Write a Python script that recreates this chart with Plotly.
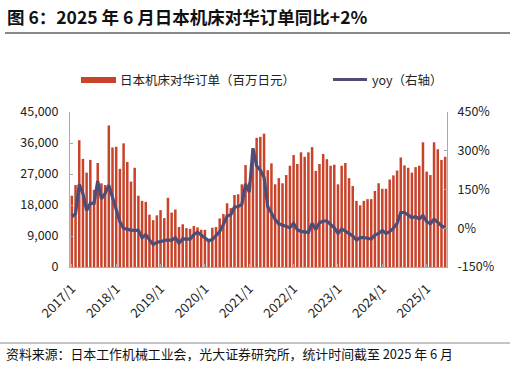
import plotly.graph_objects as go

months = [f"{y}/{m}" for y in range(2017, 2026) for m in range(1, 13)][:102]

orders = [20.7, 23.8, 36.8, 31.4, 27.4, 31.1, 22.4, 30.2, 24.3, 23.8, 41.1, 34.7,
          34.9, 28.5, 35.9, 30.5, 24.8, 28.8, 20.7, 19.2, 18.9, 15.2, 13.6, 15.0,
          16.5, 14.2, 20.1, 15.8, 16.7, 11.6, 12.4, 11.3, 11.1, 11.9, 11.5, 10.8,
          10.8, 7.6, 11.4, 11.6, 14.1, 15.4, 18.5, 17.1, 20.9, 21.1, 24.0, 29.6,
          24.5, 34.5, 37.5, 37.8, 38.7, 28.1, 30.1, 24.0, 25.8, 24.3, 26.7, 29.4,
          32.5, 29.9, 33.3, 32.0, 33.3, 34.8, 27.9, 29.9, 32.8, 31.3, 29.4, 29.7,
          24.0, 29.4, 30.2, 25.8, 23.5, 19.2, 17.9, 19.2, 19.7, 19.7, 22.1, 24.3,
          22.7, 22.7, 25.4, 26.6, 28.0, 31.8, 29.5, 28.8, 27.4, 29.0, 29.4, 36.2,
          27.7, 26.7, 36.2, 34.2, 31.1, 32.0]
orders = [v * 1000 for v in orders]

yoy = [45, 56, 170, 134, 69, 96, 96, 183, 114, 135, 167, 122,
       70, 25, 0, -4, -7, -8, -8, -37, -25, -45, -63, -55,
       -50, -48, -45, -47, -37, -58, -41, -42, -42, -25, -15, -26,
       -36, -48, -44, -28, -13, 15, 47, 52, 82, 84, 92, 172,
       140, 309, 242, 225, 197, 84, 60, 34, 17, 11, 6, 2,
       19, -6, -12, -15, -16, 19, -5, 21, 28, 28, 13, 2,
       -20, -3, -11, -20, -30, -45, -36, -36, -39, -42, -26, -20,
       -9, -20, -13, 0, 19, 61, 61, 49, 41, 45, 36, 49,
       26, 18, 35, 23, 10, 2]

left_ticks = [0, 9000, 18000, 27000, 36000, 45000]
right_ticks = [-150, 0, 150, 300, 450]
x_tick_labels = [f"{y}/1" for y in range(2017, 2026)]

BAR = "#C9432A"
LINE = "#4E4D78"
FONT = "Noto Sans CJK SC"

idx = list(range(len(months)))

fig = go.Figure()
fig.add_trace(go.Bar(x=idx, y=orders, marker=dict(color=BAR, line=dict(width=0)),
                     name="日本机床对华订单（百万日元）", showlegend=False))
fig.add_trace(go.Scatter(x=idx, y=yoy, mode="lines", yaxis="y2",
                         line=dict(color=LINE, width=3.2), name="yoy（右轴）",
                         showlegend=False))

fig.update_layout(
    width=516, height=365,
    margin=dict(l=70, r=69, t=112, b=98),
    paper_bgcolor="white", plot_bgcolor="white",
    bargap=0.32,
    font=dict(family=FONT, color="#222", size=12),
    xaxis=dict(range=[-0.5, len(months) - 0.5],
               tickmode="array", tickvals=[i for i in idx if months[i].endswith("/1")],
               ticktext=x_tick_labels, tickangle=-45,
               showline=True, linecolor="#AAAAAA", linewidth=1,
               ticks="inside", ticklen=3, tickcolor="#AAAAAA",
               showgrid=False, zeroline=False, ticklabelstandoff=8,
               tickfont=dict(family=FONT, size=13, color="#222")),
    yaxis=dict(range=[0, 45000], tickvals=left_ticks,
               ticktext=[f"{v:,}" for v in left_ticks],
               showline=True, linecolor="#AAAAAA", linewidth=1,
               ticks="inside", ticklen=3, tickcolor="#AAAAAA",
               showgrid=False, zeroline=False, ticklabelstandoff=8,
               tickfont=dict(family=FONT, size=12.5, color="#222")),
    yaxis2=dict(range=[-150, 450], tickvals=right_ticks,
                ticktext=[f"{v}%" for v in right_ticks],
                overlaying="y", side="right",
                showline=True, linecolor="#AAAAAA", linewidth=1,
                ticks="inside", ticklen=3, tickcolor="#AAAAAA",
                showgrid=False, zeroline=False, ticklabelstandoff=7,
                tickfont=dict(family=FONT, size=12.5, color="#222")),
)

shapes = [
    dict(type="line", xref="paper", yref="paper", x0=-65/377, x1=(510 - 70) / 377,
         y0=1 + (112 - 33) / 155, y1=1 + (112 - 33) / 155,
         line=dict(color="#111", width=1)),
    dict(type="line", xref="paper", yref="paper", x0=-70/377, x1=(510 - 70) / 377,
         y0=-(343 - 267) / 155, y1=-(343 - 267) / 155,
         line=dict(color="#888", width=1)),
    # legend swatches
    dict(type="rect", xref="paper", yref="paper", x0=(81 - 70) / 377, x1=(116 - 70) / 377,
         y0=1 + (112 - 83) / 155, y1=1 + (112 - 77) / 155,
         fillcolor=BAR, line=dict(width=0)),
    dict(type="line", xref="paper", yref="paper", x0=(333 - 70) / 377, x1=(367 - 70) / 377,
         y0=1 + (112 - 79.5) / 155, y1=1 + (112 - 79.5) / 155,
         line=dict(color=LINE, width=3)),
]

annotations = [
    dict(text="<b>图 6：2025 年 6 月日本机床对华订单同比+2%</b>", xref="paper", yref="paper",
         x=(5 - 70) / 377, y=1 + (112 - 16) / 155, xanchor="left", yanchor="middle",
         showarrow=False, font=dict(family=FONT, size=17.5, color="#111")),
    dict(text="日本机床对华订单（百万日元）", xref="paper", yref="paper",
         x=(118 - 70) / 377, y=1 + (112 - 80) / 155, xanchor="left", yanchor="middle",
         showarrow=False, font=dict(family=FONT, size=12.5, color="#222")),
    dict(text="yoy（右轴）", xref="paper", yref="paper",
         x=(370 - 70) / 377, y=1 + (112 - 80) / 155, xanchor="left", yanchor="middle",
         showarrow=False, font=dict(family=FONT, size=12.5, color="#222")),
    dict(text="资料来源：日本工作机械工业会，光大证券研究所，统计时间截至 2025 年 6 月",
         xref="paper", yref="paper",
         x=(4 - 70) / 377, y=-(353 - 267) / 155, xanchor="left", yanchor="middle",
         showarrow=False, font=dict(family=FONT, size=12.9, color="#111")),
]

fig.update_layout(shapes=shapes, annotations=annotations)
fig.write_html("out.html", config={"displayModeBar": False},
               post_script="document.body.style.margin='0';document.body.style.overflow='hidden';")
